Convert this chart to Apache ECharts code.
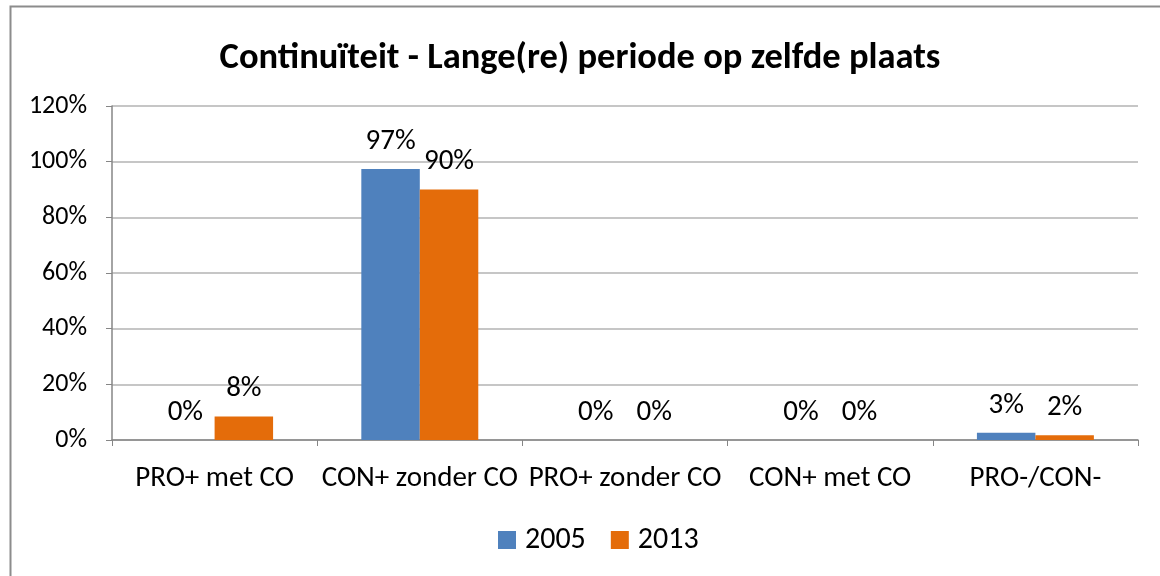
<!DOCTYPE html>
<html>
<head>
<meta charset="utf-8">
<script src="https://cdn.jsdelivr.net/npm/echarts@6/dist/echarts.min.js"></script>
<style>
    html, body { margin: 0; padding: 0; background: #fff; }
    #chart { width: 1160px; height: 576px; }
</style>
</head>
<body>
<div id="chart"></div>
<script>
    const categories = ['PRO+ met CO', 'CON+ zonder CO', 'PRO+ zonder CO', 'CON+ met CO', 'PRO-/CON-']
    const values2005 = [0, 0.974, 0, 0, 0.026]
    const values2013 = [0.084, 0.90, 0, 0, 0.017]
    const yTicks = [0, 0.2, 0.4, 0.6, 0.8, 1.0, 1.2]

    const font = 'Carlito, Lato, sans-serif'
    const pct = v => Math.round(v * 100) + '%'

    let myChart = echarts.init(document.getElementById('chart'))

    let barLabel = {
        show: true,
        position: 'top',
        distance: 13,
        fontFamily: font,
        fontSize: 29,
        color: '#000',
        formatter: p => pct(p.value)
    }

    let option = {
        backgroundColor: '#fff',
        animation: false,
        title: {
            text: 'Continuïteit - Lange(re) periode op zelfde plaats',
            left: 'center',
            top: 35,
            textStyle: { fontFamily: font, fontSize: 36.5, fontWeight: 'bold', color: '#000' }
        },
        graphic: [{
            type: 'rect',
            shape: { x: 10.5, y: 6.5, width: 1300, height: 800 },
            style: { fill: 'none', stroke: '#8c8c8c', lineWidth: 2 },
            silent: true
        }],
        legend: {
            data: ['2005', '2013'],
            bottom: 16,
            left: 493,
            itemWidth: 18,
            itemHeight: 18,
            itemGap: 25,
            icon: 'rect',
            textStyle: { fontFamily: font, fontSize: 30, color: '#000', padding: [0, 0, 0, 4] }
        },
        grid: { left: 112, right: 22, top: 106, bottom: 136 },
        xAxis: {
            type: 'category',
            data: categories,
            axisLine: { lineStyle: { color: '#868686', width: 1.5 } },
            axisTick: { show: true, length: 6, lineStyle: { color: '#868686' } },
            axisLabel: { fontFamily: font, fontSize: 29, color: '#000', margin: 24, interval: 0 }
        },
        yAxis: {
            type: 'value',
            min: 0,
            max: yTicks[yTicks.length - 1],
            interval: 0.2,
            axisLine: { show: true, lineStyle: { color: '#868686', width: 1.5 } },
            axisTick: { show: true, length: 6, lineStyle: { color: '#868686' } },
            splitLine: { lineStyle: { color: '#b3b3b3', width: 1.5 } },
            axisLabel: {
                fontFamily: font, fontSize: 26, color: '#000', margin: 25,
                formatter: v => pct(v)
            }
        },
        series: [
            {
                name: '2005',
                type: 'bar',
                data: values2005,
                barGap: '0%',
                barCategoryGap: '43%',
                itemStyle: { color: '#4f81bd' },
                label: barLabel
            },
            {
                name: '2013',
                type: 'bar',
                data: values2013,
                itemStyle: { color: '#e46c0a' },
                label: barLabel
            }
        ]
    }
    myChart.setOption(option)
</script>
</body>
</html>
